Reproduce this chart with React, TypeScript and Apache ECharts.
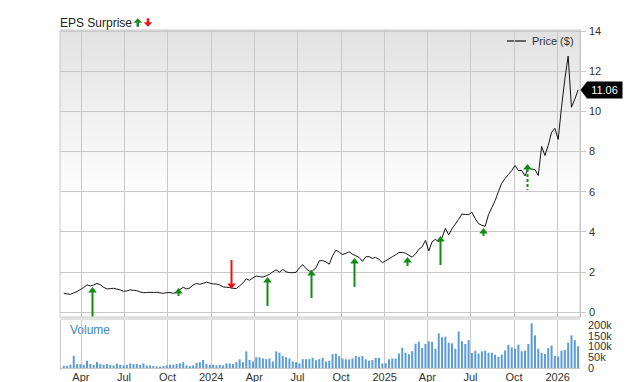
import React, { useEffect, useRef } from 'react';
import * as echarts from 'echarts';

// ---------------- data ----------------
const FIRST_WEEK = '2023-02-24';
const AXIS_MIN = '2023-02-16';
const AXIS_MAX = '2026-02-17';

// weekly closing price ($)
const priceValues = [
  0.93, 0.90, 0.88, 0.95, 1.02, 1.12, 1.22, 1.35, 1.30, 1.34,
  1.42, 1.36, 1.23, 1.15, 1.16, 1.18, 1.14, 1.10, 1.03, 1.05,
  1.10, 1.08, 1.06, 1.00, 0.96, 0.97, 0.98, 0.97, 0.98, 0.95,
  0.93, 0.96, 0.97, 0.93, 1.00, 1.12, 1.23, 1.15, 1.20, 1.35,
  1.42, 1.38, 1.43, 1.48, 1.44, 1.40, 1.39, 1.35, 1.25, 1.23,
  1.22, 1.18, 1.17, 1.30, 1.45, 1.65, 1.58, 1.70, 1.79, 1.76,
  1.74, 1.80, 1.88, 2.00, 2.10, 1.98, 2.12, 2.00, 1.96, 1.96,
  1.98, 2.20, 2.36, 2.16, 2.03, 2.05, 2.20, 2.55, 2.56, 2.50,
  2.38, 2.80, 3.08, 2.98, 2.86, 2.92, 3.00, 2.88, 2.80, 2.72,
  2.52, 2.75, 2.76, 2.67, 2.72, 2.62, 2.46, 2.55, 2.65, 2.75,
  2.85, 2.96, 2.97, 2.93, 2.82, 2.73, 2.90, 3.12, 3.25, 3.57,
  3.04, 3.50, 3.62, 3.50, 3.70, 4.17, 3.84, 4.15, 4.38, 4.62,
  4.88, 4.86, 4.85, 4.97, 4.65, 4.40, 4.32, 4.27, 4.85, 5.20,
  5.55, 6.00, 6.42, 6.65, 6.85, 7.05, 7.30, 7.05, 7.05, 6.78,
  7.20, 7.12, 7.10, 6.80, 8.25, 7.80, 8.30, 8.95, 9.15, 8.60,
  10.20, 11.60, 12.75, 10.20, 10.60, 11.06,
];

// weekly volume (thousands of shares)
const volumeK = [
  10, 10, 15, 56, 18, 18, 15, 33, 18, 15,
  27, 18, 15, 18, 15, 12, 21, 15, 12, 15,
  21, 18, 18, 15, 21, 12, 12, 9, 7, 7,
  9, 12, 15, 15, 18, 21, 27, 12, 9, 12,
  24, 27, 37, 18, 15, 15, 12, 15, 12, 21,
  21, 18, 27, 40, 27, 77, 37, 30, 50, 50,
  44, 41, 44, 30, 77, 71, 56, 50, 44, 30,
  27, 21, 41, 41, 41, 47, 36, 41,
  47, 30, 33, 64, 67, 55, 44, 40, 40, 44,
  56, 52, 56, 40, 34, 37, 47, 47, 21, 22,
  40, 44, 44, 67, 93, 71, 64, 78, 112, 121,
  93, 111, 123, 121, 89, 160, 142, 145, 117, 114,
  89, 169, 124, 111, 129, 70, 80, 67, 77, 80,
  71, 71, 62, 52, 62, 81, 107, 95, 89, 108,
  78, 80, 111, 207, 151, 89, 71, 65, 92, 104,
  56, 53, 80, 84, 117, 151, 129, 101,
];

const tickDates = [
  '2023-04-01', '2023-07-01', '2023-10-01', '2024-01-01',
  '2024-04-01', '2024-07-01', '2024-10-01', '2025-01-01',
  '2025-04-01', '2025-07-01', '2025-10-01', '2026-01-01',
];
const tickLabels = ['Apr', 'Jul', 'Oct', '2024', 'Apr', 'Jul', 'Oct', '2025', 'Apr', 'Jul', 'Oct', '2026'];
const priceTicks = [0, 2, 4, 6, 8, 10, 12, 14];
const volumeTicks = [0, 50000, 100000, 150000, 200000];

// EPS surprise arrows: date, price at arrow tip, price at arrow tail, dashed stem
const epsDates = [
  '2023-04-24', '2023-10-23', '2024-02-12', '2024-04-28', '2024-07-30',
  '2024-10-29', '2025-02-18', '2025-04-28', '2025-07-28', '2025-10-29',
];
const epsTip = [1.25, 1.20, 1.15, 1.74, 2.09, 2.69, 2.74, 3.79, 4.19, 7.37];
const epsTail = [-0.22, 0.70, 2.59, 0.30, 0.70, 1.25, 2.29, 2.34, 3.79, 6.08];
const epsDashed = [false, true, false, false, false, false, false, false, false, true];

// ---------------- helpers ----------------
function ts(s: string, addDays = 0): number {
  const [y, m, d] = s.split('-').map(Number);
  return Date.UTC(y, m - 1, d + addDays);
}

const FONT = '"Liberation Sans", Arial, Helvetica, sans-serif';
const GREEN = '#138a13';
const RED = '#ee1111';
const GRID_C = '#c8c8c8';

const weekDates = priceValues.map((_, i) => ts(FIRST_WEEK, i * 7));
const tickTs = tickDates.map((d) => ts(d));

function labelFor(v: number): string {
  let best = 0;
  let bd = Infinity;
  tickTs.forEach((t, i) => {
    const dd = Math.abs(t - v);
    if (dd < bd) {
      bd = dd;
      best = i;
    }
  });
  return tickLabels[best];
}

export default function App() {
  const ref = useRef<HTMLDivElement>(null);

  useEffect(() => {
    document.body.style.margin = '0';
    if (!ref.current) return;
    const chart = echarts.init(ref.current, undefined, { renderer: 'svg' });

    const xMin = ts(AXIS_MIN);
    const xMax = ts(AXIS_MAX);

    const baseGraphic: any[] = [
      {
        id: 'band', type: 'rect', silent: true, z: -1,
        shape: { x: 60, y: 317.5, width: 520, height: 2.5 },
        style: { fill: '#e2e2e2' },
      },
      {
        id: 'volLeft', type: 'line', silent: true,
        shape: { x1: 60.5, y1: 320, x2: 60.5, y2: 370 },
        style: { stroke: GRID_C, lineWidth: 1 },
      },
      {
        id: 'title', type: 'text', x: 60, y: 22.5,
        style: { text: 'EPS Surprise', font: `12px ${FONT}`, fill: '#222', verticalAlign: 'middle' },
      },
      {
        id: 'tUpHead', type: 'polygon',
        shape: { points: [[137.8, 18.3], [133.5, 22.8], [142.1, 22.8]] },
        style: { fill: GREEN },
      },
      {
        id: 'tUpStem', type: 'rect',
        shape: { x: 136.5, y: 22.5, width: 2.6, height: 4.3 },
        style: { fill: GREEN },
      },
      {
        id: 'tDnStem', type: 'rect',
        shape: { x: 146.7, y: 18.3, width: 2.6, height: 4.3 },
        style: { fill: RED },
      },
      {
        id: 'tDnHead', type: 'polygon',
        shape: { points: [[148, 26.8], [143.7, 22.3], [152.3, 22.3]] },
        style: { fill: RED },
      },
      {
        id: 'legLine', type: 'line',
        shape: { x1: 507, y1: 41, x2: 526, y2: 41 },
        style: { stroke: '#666', lineWidth: 2 },
      },
      {
        id: 'legText', type: 'text', x: 532, y: 41,
        style: { text: 'Price ($)', font: `11px ${FONT}`, fill: '#333', verticalAlign: 'middle' },
      },
      {
        id: 'volText', type: 'text', x: 70, y: 330,
        style: { text: 'Volume', font: `12px ${FONT}`, fill: '#3a86c8', verticalAlign: 'middle' },
      },
    ];

    const renderArrow = (params: any, api: any) => {
      const x = api.value(0);
      const tip = api.value(1);
      const tail = api.value(2);
      const dashed = api.value(3) === 1;
      const p1 = api.coord([x, tip]);
      const p2 = api.coord([x, tail]);
      const up = tail < tip;
      const color = up ? GREEN : RED;
      const dir = up ? 1 : -1;
      const hx = Math.round(p1[0]) + 0.5;
      const hy = p1[1];
      const headH = 5.5;
      const headW = 4.3;
      return {
        type: 'group',
        children: [
          {
            type: 'line',
            shape: { x1: hx, y1: hy + dir * (headH - 0.5), x2: hx, y2: p2[1] },
            style: { stroke: color, lineWidth: 2, lineDash: dashed ? [3, 2] : null },
          },
          {
            type: 'polygon',
            shape: { points: [[hx, hy], [hx - headW, hy + dir * headH], [hx + headW, hy + dir * headH]] },
            style: { fill: color },
          },
        ],
      };
    };

    const option: any = {
      animation: false,
      textStyle: { fontFamily: FONT },
      grid: [
        {
          left: 60, right: 60, top: 30, height: 287,
          show: true, borderColor: GRID_C, borderWidth: 1,
          backgroundColor: new echarts.graphic.LinearGradient(0, 0, 0, 1, [
            { offset: 0, color: '#e2e2e2' },
            { offset: 0.6, color: '#ffffff' },
            { offset: 1, color: '#ffffff' },
          ]),
        },
        { left: 60, right: 60, top: 320, height: 50, show: false },
      ],
      xAxis: [
        {
          type: 'value', gridIndex: 0, min: xMin, max: xMax,
          axisLine: { show: false },
          axisTick: { show: false, customValues: tickTs },
          axisLabel: { show: false, customValues: tickTs },
          splitLine: { show: true, lineStyle: { color: GRID_C, width: 1 } },
        },
        {
          type: 'value', gridIndex: 1, min: xMin, max: xMax,
          axisLine: { show: true, lineStyle: { color: GRID_C } },
          axisTick: { show: false, customValues: tickTs },
          axisLabel: {
            customValues: tickTs,
            formatter: (v: number) => labelFor(v),
            color: '#333', fontSize: 11, margin: 3, fontFamily: FONT,
          },
          splitLine: { show: true, lineStyle: { color: GRID_C, width: 1 } },
        },
      ],
      yAxis: [
        {
          type: 'value', gridIndex: 0, position: 'right', min: -0.25, max: 14.05,
          axisLine: { show: true, lineStyle: { color: GRID_C } },
          axisTick: { show: true, length: 6, customValues: priceTicks, lineStyle: { color: GRID_C } },
          axisLabel: { customValues: priceTicks, color: '#333', fontSize: 11, margin: 9, fontFamily: FONT },
          splitLine: { show: true, lineStyle: { color: GRID_C, width: 1 } },
        },
        {
          type: 'value', gridIndex: 1, position: 'right', min: 0, max: 222000,
          axisLine: { show: false },
          axisTick: { show: false, customValues: volumeTicks },
          axisLabel: {
            customValues: volumeTicks,
            formatter: (v: number) => (v === 0 ? '0' : `${v / 1000}k`),
            color: '#333', fontSize: 11, margin: 8, fontFamily: FONT,
          },
          splitLine: { show: false },
        },
      ],
      series: [
        {
          type: 'bar', xAxisIndex: 1, yAxisIndex: 1,
          data: weekDates.map((d, i) => [d, volumeK[i] * 1000]),
          barWidth: 2,
          itemStyle: { color: '#5b9bd8' },
        },
        {
          type: 'line', xAxisIndex: 0, yAxisIndex: 0,
          data: weekDates.map((d, i) => [d, priceValues[i]]),
          symbol: 'none', showSymbol: false,
          lineStyle: { color: '#151515', width: 1 },
          z: 3,
        },
        {
          type: 'custom', xAxisIndex: 0, yAxisIndex: 0,
          data: epsDates.map((d, i) => [ts(d), epsTip[i], epsTail[i], epsDashed[i] ? 1 : 0]),
          renderItem: renderArrow,
          z: 4,
        },
      ],
      graphic: baseGraphic,
    };

    chart.setOption(option);

    const lastIdx = priceValues.length - 1;
    const p = chart.convertToPixel({ xAxisIndex: 0, yAxisIndex: 0 }, [weekDates[lastIdx], priceValues[lastIdx]]) as number[];
    const ax = (chart.convertToPixel({ xAxisIndex: 0 }, xMax) as number) + 0.5;
    const y = p[1];
    chart.setOption({
      graphic: [
        ...baseGraphic,
        {
          id: 'tag', type: 'polygon', z: 10,
          shape: { points: [[ax, y], [ax + 6.5, y - 8.5], [ax + 42, y - 8.5], [ax + 42, y + 8.5], [ax + 6.5, y + 8.5]] },
          style: { fill: '#000' },
        },
        {
          id: 'tagText', type: 'text', z: 11, x: ax + 24, y,
          style: {
            text: priceValues[lastIdx].toFixed(2), font: `11px ${FONT}`, fill: '#fff',
            align: 'center', verticalAlign: 'middle',
          },
        },
      ],
    });

    return () => chart.dispose();
  }, []);

  return <div ref={ref} style={{ width: 640, height: 382, position: 'absolute', left: 0, top: 0 }} />;
}
